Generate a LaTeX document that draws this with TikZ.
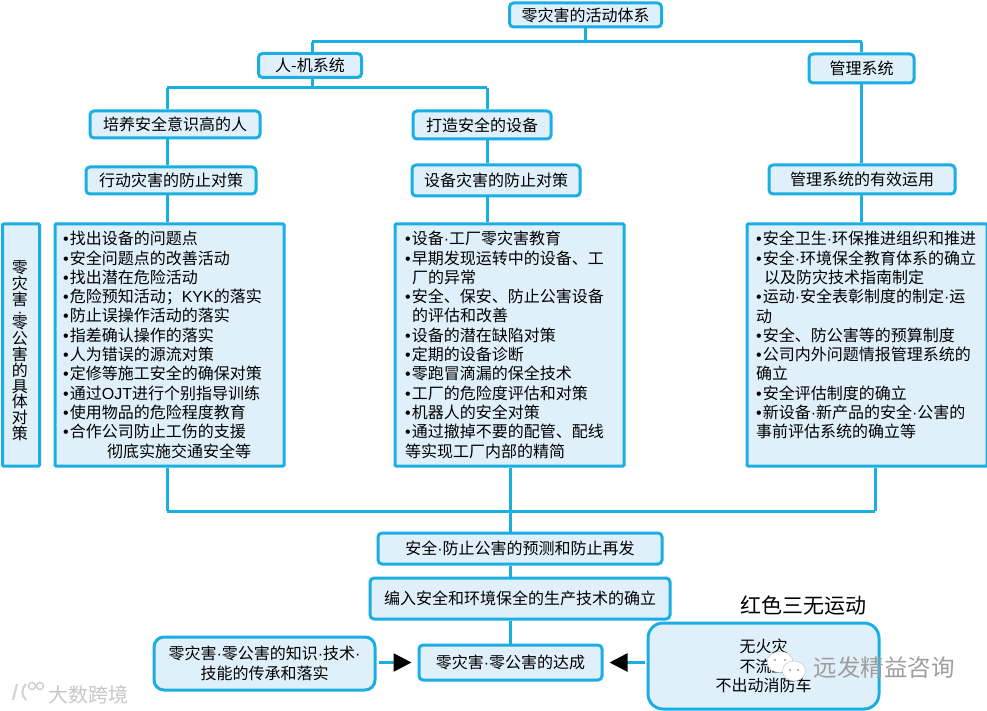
\documentclass[tikz,border=0pt]{standalone}
\usepackage{fontspec}
\setmainfont{Noto Sans CJK SC}
\newfontfamily\latina{Liberation Sans}
\newcommand{\vineta}{{\latina •}\kern1pt}
\newcommand{\punto}{{\latina ·}}
\usetikzlibrary{calc}
\usetikzlibrary{arrows.meta}
\definecolor{linea}{HTML}{1AAEE3}
\definecolor{relleno}{HTML}{DFF0FB}
\definecolor{marca}{gray}{0.62}
\setlength{\lineskiplimit}{-10pt}

\begin{document}
\begin{tikzpicture}[x=1pt,y=-1pt]
\tikzset{
caja/.style={draw=linea,fill=relleno,line width=3pt,rounded corners=4pt,inner sep=0pt,font=\fontsize{16}{19.3}\selectfont,align=center},
lista/.style={caja,rounded corners=1pt},
texto/.style={anchor=north west,inner sep=0pt,align=left,font=\fontsize{16}{19.3}\selectfont},
conector/.style={draw=linea,line width=3pt},
flecha/.style={draw=linea,line width=2.5pt,-{Triangle[black,length=18pt,width=18pt]},shorten <=2pt,shorten >=6pt}
}
\useasboundingbox (0,0) rectangle (987,711);

% Arbol superior
\node (raiz) at (585.5,15) [caja,minimum width=152pt,minimum height=24pt] {零灾害的活动体系};
\node (hombre) at (310,65.5) [caja,minimum width=103pt,minimum height=24pt] {人-机系统};
\node (gestion) at (861.5,68.5) [caja,minimum width=105pt,minimum height=29pt] {管理系统};
\node (cultura) at (175,124.5) [caja,minimum width=170pt,minimum height=27pt] {培养安全意识高的人};
\node (equipo) at (482,125) [caja,minimum width=138pt,minimum height=28pt] {打造安全的设备};
\node (accion) at (171,180.5) [caja,minimum width=170pt,minimum height=27pt] {行动灾害的防止对策};
\node (averia) at (496,180.5) [caja,minimum width=168pt,minimum height=31pt] {设备灾害的防止对策};
\node (uso) at (862,179.5) [caja,minimum width=186pt,minimum height=29pt] {管理系统的有效运用};
% Cajas de listas
\node (lado) at (21,345) [lista,minimum width=37pt,minimum height=242pt] {};
\node (lista1) at (169.5,345) [lista,minimum width=229pt,minimum height=242pt] {};
\node (lista2) at (509.5,345) [lista,minimum width=229pt,minimum height=242pt] {};
\node (lista3) at (867,345) [lista,minimum width=240pt,minimum height=242pt] {};
\node (texto0) at (20,351) [inner sep=0pt,align=center,font=\fontsize{16}{15.9}\selectfont] {零\\灾\\害\\[-4pt]\punto\\[-5pt]零\\公\\害\\的\\具\\体\\对\\策};
\node (texto1) at (63,231) [texto] {\vineta 找出设备的问题点\\
\vineta 安全问题点的改善活动\\
\vineta 找出潜在危险活动\\
\vineta 危险预知活动；{\latina KYK}的落实\\
\vineta 防止误操作活动的落实\\
\vineta 指差确认操作的落实\\
\vineta 人为错误的源流对策\\
\vineta 定修等施工安全的确保对策\\
\vineta 通过{\latina OJT}进行个别指导训练\\
\vineta 使用物品的危险程度教育\\
\vineta 合作公司防止工伤的支援\\
\hspace*{44pt}彻底实施交通安全等};
\node (texto2) at (405,231) [texto] {\vineta 设备\punto 工厂零灾害教育\\
\vineta 早期发现运转中的设备、工\\
\hspace*{7pt}厂的异常\\
\vineta 安全、保安、防止公害设备\\
\hspace*{7pt}的评估和改善\\
\vineta 设备的潜在缺陷对策\\
\vineta 定期的设备诊断\\
\vineta 零跑冒滴漏的保全技术\\
\vineta 工厂的危险度评估和对策\\
\vineta 机器人的安全对策\\
\vineta 通过撤掉不要的配管、配线\\
等实现工厂内部的精简};
\node (texto3) at (756,231) [texto] {\vineta 安全卫生\punto 环保推进组织和推进\\
\vineta 安全\punto 环境保全教育体系的确立\\
\hspace*{8pt}以及防灾技术指南制定\\
\vineta 运动\punto 安全表彰制度的制定\punto 运\\
动\\
\vineta 安全、防公害等的预算制度\\
\vineta 公司内外问题情报管理系统的\\
确立\\
\vineta 安全评估制度的确立\\
\vineta 新设备\punto 新产品的安全\punto 公害的\\
事前评估系统的确立等};
% Parte inferior
\node (prevision) at (520,548.5) [caja,minimum width=284pt,minimum height=31pt] {安全\punto 防止公害的预测和防止再发};
\node (tecnica) at (520,598.5) [caja,minimum width=300pt,minimum height=41pt] {编入安全和环境保全的生产技术的确立};
\node (logro) at (510.5,662.5) [caja,minimum width=183pt,minimum height=35pt] {零灾害\punto 零公害的达成};
\node (saber) at (264.5,663.5) [caja,rounded corners=10pt,minimum width=221pt,minimum height=53pt] {零灾害\punto 零公害的知识\punto 技术\punto \\技能的传承和落实};
\node (rojo) at (763.5,666) [caja,rounded corners=15pt,minimum width=231pt,minimum height=86pt] {无火灾\\不流血\\不出动消防车};
\node (titulo) at (803,606) [inner sep=0pt,font=\fontsize{21}{24}\selectfont] {红色三无运动};
% Puntos de paso
\coordinate (b1) at (312,42);
\coordinate (b2) at (861.5,42);
\coordinate (b3) at (167,88);
\coordinate (b4) at (487,88);
\coordinate (b5) at (167,511);
\coordinate (b6) at (875,511);
\coordinate (b7) at (510,511);

\path
(raiz.south) edge [conector] (raiz.south |- b1)
(b1) edge [conector] (b2)
(b1) edge [conector] (b1 |- hombre.north)
(b2) edge [conector] (gestion.north)
(hombre.south -| b1) edge [conector] (b1 |- b3)
(b3) edge [conector] (b4)
(b3) edge [conector] (b3 |- cultura.north)
(b4) edge [conector] (b4 |- equipo.north)
(b3 |- cultura.south) edge [conector] (b3 |- accion.north)
(b4 |- equipo.south) edge [conector] (b4 |- averia.north)
(gestion.south) edge [conector] (uso.north -| gestion.south)
(b3 |- accion.south) edge [conector] (b3 |- lista1.north)
(b4 |- averia.south) edge [conector] (b4 |- lista2.north)
(uso.south -| gestion.south) edge [conector] (gestion.south |- lista3.north)
(b5 |- lista1.south) edge [conector] (b5)
(b5) edge [conector] (b6)
(b6 |- lista3.south) edge [conector] (b6)
(b7 |- lista2.south) edge [conector] (b7 |- prevision.north)
(b7 |- prevision.south) edge [conector] (b7 |- tecnica.north)
(b7 |- tecnica.south) edge [conector] (b7 |- logro.north)
(saber.east |- logro) edge [flecha] (logro)
(rojo.west |- logro) edge [flecha] (logro);

% Marcas de agua
\fill [white,draw=black!25] (780,662) ellipse (13pt and 10.5pt);
\fill [white,draw=black!25] (794,671) ellipse (11.5pt and 10pt);
\fill [marca] (775,660) circle (1.2pt) (785,660) circle (1.2pt) (790,670) circle (1.2pt) (798,670) circle (1.2pt);
\node (agua1) at (884,668) [inner sep=0pt,text=marca,font=\fontsize{23.5}{26}\selectfont] {远发精益咨询};
\node (agua2) at (88,695) [inner sep=0pt,text=black!22,font=\fontsize{20}{24}\selectfont] {大数跨境};
\draw [black!18,line width=2pt] (17,684) -- (13,700) (26,684) to[bend right=50] (26,700);
\draw [black!18,line width=1.5pt] (32,686) circle (3.5pt) (40,686) circle (3.5pt);

\end{tikzpicture}
\end{document}
